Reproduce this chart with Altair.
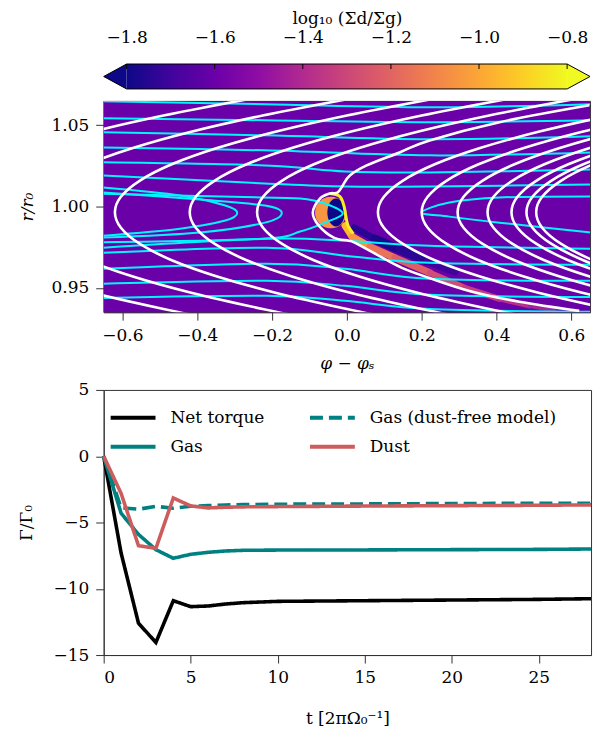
import altair as alt
import pandas as pd

FONT = "DejaVu Serif"
FS = 17
AX = "#333333"

# ---------------- colour bar ----------------
cb_ticks = [-1.8, -1.6, -1.4, -1.2, -1.0, -0.8]
cb_extend = 0.052
plasma = ["#0d0887", "#41049d", "#6a00a8", "#8f0da4", "#b12a90", "#cc4778",
          "#e16462", "#f2844b", "#fca636", "#fcce25", "#f0f921"]

# ---------------- map panel ----------------
phi_lim = [-0.65, 0.65]
r_lim = [0.935, 1.065]
phi_ticks = [-0.6, -0.4, -0.2, 0.0, 0.2, 0.4, 0.6]
r_ticks = [0.95, 1.00, 1.05]
bg_level = -1.6

# gas streamlines (white)
white_r = [1.066, 1.056, 1.046, 1.036, 1.026, 1.016, 1.006, 0.9965,
           0.987, 0.977, 0.967, 0.957, 0.947, 0.937, 0.930]
white_phi = [
    [-0.265, -0.49, -0.681, -0.837, -0.958, -1.043, -1.094, -1.11, -1.094, -1.043, -0.958, -0.837, -0.681, -0.49, -0.336],
    [0.0, -0.225, -0.416, -0.572, -0.693, -0.778, -0.829, -0.845, -0.829, -0.778, -0.693, -0.572, -0.416, -0.225, -0.071],
    [0.225, 0.0, -0.191, -0.347, -0.468, -0.553, -0.604, -0.62, -0.604, -0.553, -0.468, -0.347, -0.191, 0.0, 0.154],
    [0.425, 0.2, 0.009, -0.147, -0.268, -0.353, -0.404, -0.42, -0.404, -0.353, -0.268, -0.147, 0.009, 0.2, 0.354],
    [0.605, 0.38, 0.189, 0.033, -0.088, -0.173, -0.224, -0.24, -0.224, -0.173, -0.088, 0.033, 0.189, 0.38, 0.534],
    [0.928, 0.703, 0.512, 0.356, 0.235, 0.15, 0.099, 0.083, 0.099, 0.15, 0.235, 0.356, 0.512, 0.703, 0.857],
    [1.045, 0.82, 0.629, 0.473, 0.352, 0.267, 0.216, 0.2, 0.216, 0.267, 0.352, 0.473, 0.629, 0.82, 0.974],
    [1.141, 0.916, 0.725, 0.569, 0.448, 0.363, 0.312, 0.296, 0.312, 0.363, 0.448, 0.569, 0.725, 0.916, 1.07],
    [1.221, 0.996, 0.805, 0.649, 0.528, 0.443, 0.392, 0.376, 0.392, 0.443, 0.528, 0.649, 0.805, 0.996, 1.15],
    [1.285, 1.06, 0.869, 0.713, 0.592, 0.507, 0.456, 0.44, 0.456, 0.507, 0.592, 0.713, 0.869, 1.06, 1.214],
    [1.325, 1.1, 0.909, 0.753, 0.632, 0.547, 0.496, 0.48, 0.496, 0.547, 0.632, 0.753, 0.909, 1.1, 1.254],
    [1.351, 1.126, 0.935, 0.779, 0.658, 0.573, 0.522, 0.506, 0.522, 0.573, 0.658, 0.779, 0.935, 1.126, 1.28],
]
# separatrix around the planet
sep_phi = [0.648, 0.408, 0.221, 0.141, 0.053, 0.008, -0.011, -0.025, -0.046, -0.072, -0.091,
           -0.075, -0.035, 0.005, 0.021, 0.085, 0.147, 0.219, 0.328, 0.461, 0.621]
sep_r = [1.0623, 1.0519, 1.0407, 1.0333, 1.0253, 1.0191, 1.0130, 1.0086, 1.0080, 1.0049, 0.9963,
         0.9883, 0.9809, 0.9790, 0.9778, 0.9698, 0.9623, 0.9562, 0.9481, 0.9414, 0.9358]

# dust streamlines (cyan)
cyan_lines = [
    ([-0.651, -0.219, 0.221, 0.653], [1.0648, 1.0630, 1.0611, 1.0630]),
    ([-0.651, -0.219, 0.221, 0.653], [1.0543, 1.0531, 1.0519, 1.0531]),
    ([-0.651, -0.219, 0.221, 0.653], [1.0457, 1.0438, 1.0414, 1.0432]),
    ([-0.651, -0.219, 0.221, 0.653], [1.0364, 1.0346, 1.0315, 1.0333]),
    ([-0.651, -0.219, -0.005, 0.221, 0.653], [1.0272, 1.0253, 1.0216, 1.0210, 1.0228]),
    ([-0.651, -0.219, -0.005, 0.221, 0.653], [1.0191, 1.0142, 1.0123, 1.0123, 1.0136]),
    ([-0.651, -0.446, -0.325, -0.293, -0.325, -0.446, -0.651], [1.0117, 1.0068, 1.0006, 0.9960, 0.9914, 0.9864, 0.9821]),
    ([-0.651, -0.392, -0.219, -0.174, -0.219, -0.392, -0.651], [1.0086, 1.0043, 1.0006, 0.9960, 0.9901, 0.9840, 0.9809]),
    ([-0.651, -0.227, -0.125, -0.059, -0.011, -0.059, -0.125, -0.227, -0.651],
     [1.0079, 1.0056, 1.0049, 1.0019, 0.9957, 0.9901, 0.9846, 0.9802, 0.9780]),
    ([-0.651, -0.214, -0.005, 0.221, 0.653], [0.9747, 0.9802, 0.9790, 0.9759, 0.9741]),
    ([-0.651, -0.214, -0.005, 0.221, 0.653], [0.9716, 0.9747, 0.9698, 0.9654, 0.9642]),
    ([-0.651, -0.214, -0.005, 0.221, 0.653], [0.9617, 0.9648, 0.9617, 0.9556, 0.9543]),
    ([-0.651, -0.214, -0.005, 0.221, 0.653], [0.9525, 0.9543, 0.9512, 0.9457, 0.9444]),
    ([-0.651, -0.214, -0.005, 0.221, 0.653], [0.9438, 0.9451, 0.9420, 0.9370, 0.9352]),
    ([0.653, 0.408, 0.274, 0.200, 0.274, 0.408, 0.653], [1.0062, 1.0056, 1.0025, 0.9963, 0.9938, 0.9901, 0.9840]),
]

# dust features near the planet
glow_phi, glow_r, glow_val = [-0.043], [0.9963], [-1.05]
hole_phi, hole_r, hole_val = [-0.029], [0.9963], [-1.8]
arc_phi = [-0.045, -0.019, -0.008, -0.003, 0.003, 0.017]
arc_r = [1.0080, 1.0062, 1.0006, 0.9944, 0.9883, 0.9833]
arc_val = -0.82
tail_phi = [-0.005, 0.014, 0.062, 0.128, 0.222, 0.315, 0.408, 0.488, 0.555]
tail_r = [0.9883, 0.9815, 0.9753, 0.9685, 0.9593, 0.9500, 0.9432, 0.9389, 0.9358]
tail_val = [-0.95, -1.05, -1.15, -1.22, -1.28, -1.33, -1.38, -1.43, -1.5]
tail_w = [7, 7, 7, 7, 6, 6, 5, 4, 3]
band_phi = [0.020, 0.075, 0.141, 0.216, 0.288]
band_r = [0.9870, 0.9800, 0.9735, 0.9665, 0.9600]
band_val = [-1.75, -1.78, -1.75, -1.7, -1.65]
band_w = [7, 9, 9, 8, 6]

# ---------------- torque panel ----------------
t_vals = [0, 1, 2, 3, 4, 5, 6, 7, 8, 10, 15, 20, 25, 28]
net_torque = [0, -7.3, -12.6, -14.05, -10.9, -11.35, -11.3, -11.15, -11.05, -10.95, -10.9, -10.85, -10.8, -10.75]
gas_torque = [0, -4.3, -5.9, -7.05, -7.7, -7.4, -7.25, -7.15, -7.1, -7.08, -7.07, -7.05, -7.03, -7.0]
gas_free_torque = [0, -3.9, -4.0, -3.78, -3.92, -3.78, -3.72, -3.68, -3.65, -3.62, -3.6, -3.57, -3.55, -3.55]
dust_torque = [0, -2.8, -6.75, -6.95, -3.15, -3.75, -3.9, -3.85, -3.82, -3.8, -3.76, -3.73, -3.7, -3.67]
series_names = ["Net torque", "Gas", "Gas (dust-free model)", "Dust"]
series_colors = ["#000000", "#008080", "#008080", "#cd5c5c"]
series_dash = [[1, 0], [1, 0], [13, 6], [1, 0]]
t_lim = [0, 28]
g_lim = [-15, 5]
t_ticks = [0, 5, 10, 15, 20, 25]
g_ticks = [-15, -10, -5, 0, 5]

# ======================================================
# colour bar chart
lo, hi = cb_ticks[0], cb_ticks[-1]
cbx = alt.X("x:Q", scale=alt.Scale(domain=[lo - cb_extend, hi + cb_extend], nice=False, zero=False),
            axis=alt.Axis(orient="top", values=cb_ticks, format=".1f", title="log₁₀ (Σd/Σg)",
                          ticks=False, domain=False, labelPadding=18, titlePadding=1, grid=False))
cby = alt.Y("y:Q", scale=alt.Scale(domain=[-0.12, 1], nice=False, zero=False), axis=None)

grad = alt.LinearGradient(gradient="linear",
                          stops=[alt.GradientStop(color=c, offset=k / (len(plasma) - 1)) for k, c in enumerate(plasma)],
                          x1=0, x2=1, y1=0, y2=0)
cb_rect_df = pd.DataFrame({"x": [lo], "x2": [hi], "y": [0.0], "y2": [1.0]})
cb_rect = alt.Chart(cb_rect_df).mark_rect(fill=grad).encode(x=cbx, x2="x2:Q", y=cby, y2="y2:Q")

tri_l = pd.DataFrame({"x": [lo - cb_extend, lo], "y": [0.5, 0.0], "y2": [0.5, 1.0]})
tri_r = pd.DataFrame({"x": [hi, hi + cb_extend], "y": [0.0, 0.5], "y2": [1.0, 0.5]})
cb_tl = alt.Chart(tri_l).mark_area(color=plasma[0]).encode(x=cbx, y=cby, y2="y2:Q")
cb_tr = alt.Chart(tri_r).mark_area(color=plasma[-1]).encode(x=cbx, y=cby, y2="y2:Q")

outline = pd.DataFrame({"x": [lo, hi, hi + cb_extend, hi, lo, lo - cb_extend, lo],
                        "y": [1, 1, 0.5, 0, 0, 0.5, 1], "i": list(range(7))})
cb_out = alt.Chart(outline).mark_line(color="black", strokeWidth=1).encode(x=cbx, y=cby, order="i:Q")
cb_tick_df = pd.DataFrame({"x": cb_ticks, "y": [1.0] * len(cb_ticks), "y2": [0.8] * len(cb_ticks)})
cb_tk = alt.Chart(cb_tick_df).mark_rule(color="black", strokeWidth=1).encode(x=cbx, y=cby, y2="y2:Q")

colorbar = alt.layer(cb_rect, cb_tl, cb_tr, cb_out, cb_tk).properties(
    width=488, height=28, view=alt.ViewBackground(strokeOpacity=0))

# ======================================================
# map chart
mx = alt.X("phi:Q", scale=alt.Scale(domain=phi_lim, nice=False, zero=False),
           axis=alt.Axis(values=phi_ticks, format=".1f", title="φ − φₛ", titleFontStyle="italic",
                         titlePadding=12))
my = alt.Y("r:Q", scale=alt.Scale(domain=r_lim, nice=False, zero=False),
           axis=alt.Axis(values=r_ticks, format=".2f", title="r/r₀", titleFontStyle="italic",
                         titlePadding=15))
cscale = alt.Scale(scheme="plasma", domain=[lo, hi])

bg_df = pd.DataFrame({"phi": [phi_lim[0]], "phi2": [phi_lim[1]], "r": [r_lim[0]], "r2": [r_lim[1]], "v": [bg_level]})
bg = alt.Chart(bg_df).mark_rect().encode(x=mx, x2="phi2:Q", y=my, y2="r2:Q",
                                         color=alt.Color("v:Q", scale=cscale, legend=None))

glow = alt.Chart(pd.DataFrame({"phi": glow_phi, "r": glow_r, "v": glow_val})).mark_point(
    shape="circle", filled=True, size=1000, opacity=1, clip=True).encode(
    x=mx, y=my, color=alt.Color("v:Q", scale=cscale, legend=None))
hole = alt.Chart(pd.DataFrame({"phi": hole_phi, "r": hole_r, "v": hole_val})).mark_point(
    shape="M 0 -1 A 0.62 1 0 1 1 0 1 A 0.62 1 0 1 1 0 -1 Z", filled=True, size=784, opacity=1, clip=True).encode(
    x=mx, y=my, color=alt.Color("v:Q", scale=cscale, legend=None))


def seg_df(ph, rr, vv, ww):
    return pd.DataFrame({"phi": ph[:-1], "phi2": ph[1:], "r": rr[:-1], "r2": rr[1:], "v": vv[:-1], "w": ww[:-1]})


band = alt.Chart(seg_df(band_phi, band_r, band_val, band_w)).mark_rule(strokeCap="round", clip=True).encode(
    x=mx, x2="phi2:Q", y=my, y2="r2:Q", color=alt.Color("v:Q", scale=cscale, legend=None),
    size=alt.Size("w:Q", scale=None))
tail = alt.Chart(seg_df(tail_phi, tail_r, tail_val, tail_w)).mark_rule(strokeCap="round", clip=True).encode(
    x=mx, x2="phi2:Q", y=my, y2="r2:Q", color=alt.Color("v:Q", scale=cscale, legend=None),
    size=alt.Size("w:Q", scale=None))
arc_df = pd.DataFrame({"phi": arc_phi, "r": arc_r, "v": [arc_val] * len(arc_phi), "i": list(range(len(arc_phi)))})
arc = alt.Chart(arc_df).mark_line(strokeWidth=3, interpolate="cardinal", clip=True).encode(
    x=mx, y=my, order="i:Q", color=alt.Color("v:Q", scale=cscale, legend=None))

rows = []
for c, (ph, rr) in enumerate(cyan_lines):
    for i, (p, r) in enumerate(zip(ph, rr)):
        rows.append({"cid": c, "i": i, "phi": p, "r": r})
cyan = alt.Chart(pd.DataFrame(rows)).mark_line(color="#00f5ff", strokeWidth=2, interpolate="cardinal", clip=True).encode(
    x=mx, y=my, detail="cid:N", order="i:Q")

rows = []
for c, ph in enumerate(white_phi):
    for i, (p, r) in enumerate(zip(ph, white_r)):
        rows.append({"cid": c, "i": i, "phi": p, "r": r})
for i, (p, r) in enumerate(zip(sep_phi, sep_r)):
    rows.append({"cid": 99, "i": i, "phi": p, "r": r})
white = alt.Chart(pd.DataFrame(rows)).mark_line(color="white", strokeWidth=2.6, interpolate="cardinal", clip=True).encode(
    x=mx, y=my, detail="cid:N", order="i:Q")

mapchart = alt.layer(bg, band, tail, glow, hole, arc, cyan, white).properties(width=488, height=212)

# ======================================================
# torque chart
rows = []
for name, vals in zip(["Net torque", "Gas", "Gas (dust-free model)", "Dust"],
                      [net_torque, gas_torque, gas_free_torque, dust_torque]):
    for t, v in zip(t_vals, vals):
        rows.append({"t": t, "g": v, "series": name})
tdf = pd.DataFrame(rows)
torque_lines = alt.Chart(tdf).mark_line(strokeWidth=3.6).encode(
    x=alt.X("t:Q", scale=alt.Scale(domain=t_lim, nice=False, zero=False),
            axis=alt.Axis(values=t_ticks, format="d", title="t [2πΩ₀⁻¹]", titlePadding=25)),
    y=alt.Y("g:Q", scale=alt.Scale(domain=g_lim, nice=False, zero=False),
            axis=alt.Axis(values=g_ticks, format="d", title="Γ/Γ₀", titlePadding=18)),
    color=alt.Color("series:N", scale=alt.Scale(domain=series_names, range=series_colors), legend=None),
    strokeDash=alt.StrokeDash("series:N", scale=alt.Scale(domain=series_names, range=series_dash), legend=None),
    detail="series:N",
)

# hand-placed legend (two columns, like the original)
leg_layers = []
one = pd.DataFrame({"k": [0]})
leg_col_x = [7, 207]      # symbol start (px from plot left)
leg_row_y = [28, 57]      # row centre (px from plot top)
for k, (name, col, dash) in enumerate(zip(series_names, series_colors, series_dash)):
    cx = leg_col_x[k // 2]
    ry = leg_row_y[k % 2]
    leg_layers.append(alt.Chart(one).mark_rule(color=col, strokeWidth=4, strokeDash=dash).encode(
        x=alt.value(cx), x2=alt.value(cx + 45), y=alt.value(ry)))
    leg_layers.append(alt.Chart(one).mark_text(text=name, align="left", baseline="middle",
                                               fontSize=FS, font=FONT, color="black").encode(
        x=alt.value(cx + 60), y=alt.value(ry)))

torque = alt.layer(torque_lines, *leg_layers).properties(width=489, height=266)

chart = alt.vconcat(colorbar, mapchart, torque, spacing=8).resolve_scale(
    color="independent", strokeDash="independent", x="independent", y="independent"
).properties(padding={"left": 8, "top": 0, "right": 5, "bottom": 5}).configure(font=FONT).configure_axis(
    labelFont=FONT, titleFont=FONT, labelFontSize=FS, titleFontSize=FS, titleFontWeight="normal",
    tickSize=8, tickColor=AX, domainColor=AX, labelColor="black", titleColor="black", grid=False,
    labelPadding=7, titlePadding=8
).configure_view(stroke=AX, strokeWidth=1)

chart.save("out.html", embed_options={"renderer": "svg", "actions": False})
